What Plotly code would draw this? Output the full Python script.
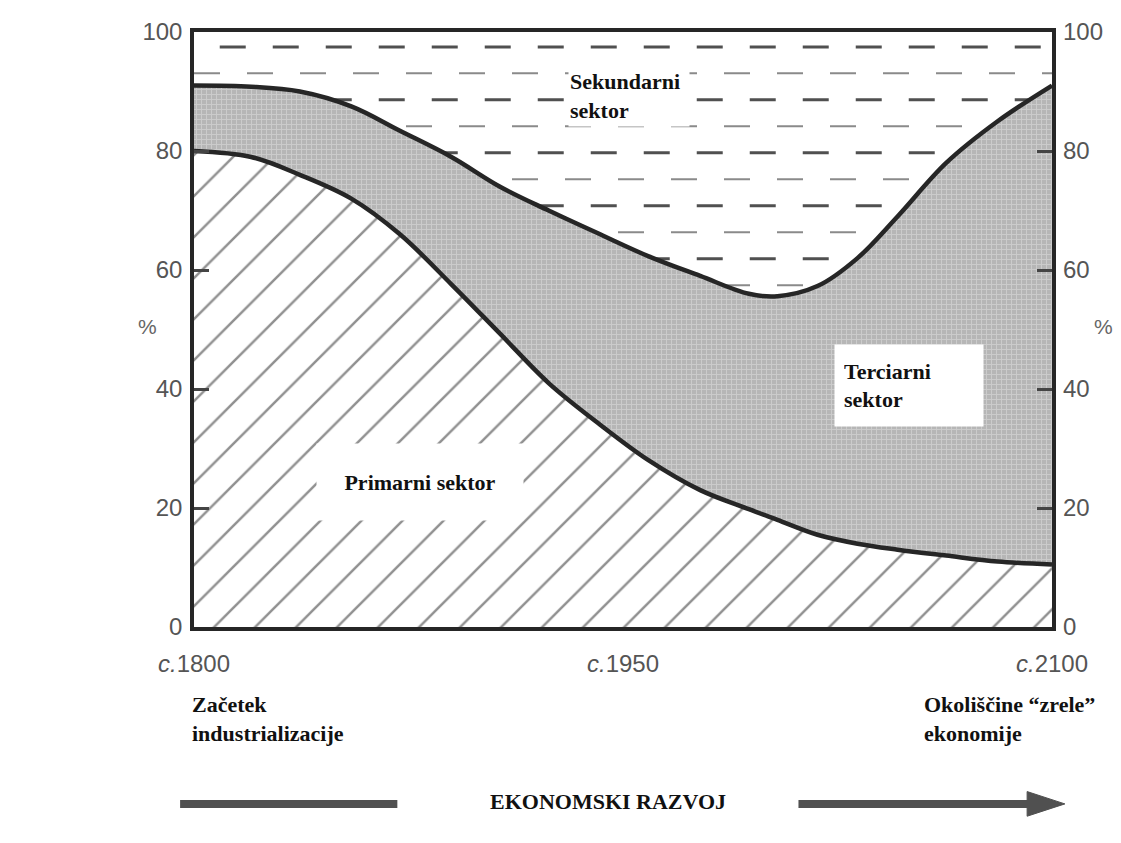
import numpy as np
import plotly.graph_objects as go

# ---- data ----
years = [1800, 1820, 1837, 1855, 1872, 1890, 1907, 1924, 1942, 1959, 1977, 1994, 2004, 2018, 2032, 2046, 2063, 2081, 2100]
primary_top = [80, 79, 76, 72, 66, 57.6, 49.3, 41, 34, 28, 23, 19.8, 18, 15.5, 14, 13, 12, 11, 10.5]
tertiary_top = [91, 90.8, 90, 87.5, 83.4, 79, 74, 70, 66, 62.3, 59, 56, 55.6, 57.3, 62, 69, 78, 85, 91]
x_tick_vals = [1800, 1950, 2100]
x_tick_text = ["<i>c.</i>1800", "<i>c.</i>1950", "<i>c.</i>2100"]
y_tick_vals = [0, 20, 40, 60, 80, 100]

SERIF = "Liberation Serif"
SANS = "Liberation Sans"
LBL = dict(family=SERIF, size=22, color="#111")

fig = go.Figure()

# secondary sector: dashed rows (drawn first, later covered by the other fills)
levels = np.arange(97.5, 52, -4.45)
for i, lv in enumerate(levels):
    start = years[0] + (9 if i % 2 == 0 else 0)
    fig.add_trace(go.Scatter(
        x=[start, years[-1]], y=[lv, lv], mode="lines",
        line=dict(color="#505050" if i % 2 == 0 else "#8a8a8a", width=3 if i % 2 == 0 else 2,
                  dash="26px,27px"),
        hoverinfo="skip", showlegend=False))

# primary sector
fig.add_trace(go.Scatter(
    x=years, y=primary_top, mode="lines", fill="tozeroy",
    line=dict(color="#262626", width=4.5, shape="spline", smoothing=1.0),
    fillcolor="white",
    fillpattern=dict(shape="/", fgcolor="#222222", bgcolor="white", size=29, solidity=0.085),
    showlegend=False, hoverinfo="skip"))

# tertiary sector
fig.add_trace(go.Scatter(
    x=years, y=tertiary_top, mode="lines", fill="tonexty",
    line=dict(color="#262626", width=4.5, shape="spline", smoothing=1.0),
    fillcolor="#c4c4c4",
    fillpattern=dict(shape="+", fgcolor="#e2e2e2", bgcolor="#b6b6b6", size=5, solidity=0.35),
    showlegend=False, hoverinfo="skip"))

# dummy trace for the right axis
fig.add_trace(go.Scatter(x=[1800], y=[0], yaxis="y2", mode="markers",
                         marker=dict(opacity=0), showlegend=False, hoverinfo="skip"))

ann = []
ann.append(dict(x=1952, y=89.2, xref="x", yref="y", text="<b>Sekundarni<br>sektor</b>",
                showarrow=False, align="left", font=LBL, bgcolor="white",
                width=118, height=58, xanchor="center", yanchor="middle"))
ann.append(dict(x=2050, y=40.6, xref="x", yref="y", text="<b>Terciarni<br>sektor</b>",
                showarrow=False, align="left", font=LBL, bgcolor="white",
                width=130, height=63, borderpad=9, xanchor="center", yanchor="middle"))
ann.append(dict(x=1879, y=24.4, xref="x", yref="y", text="<b>Primarni sektor</b>",
                showarrow=False, align="center", font=LBL, bgcolor="white",
                width=190, height=60, borderpad=8, xanchor="center", yanchor="middle"))
# % labels
for xp in [-0.054, 1.060]:
    ann.append(dict(x=xp, y=0.505, xref="paper", yref="paper", text="%", showarrow=False,
                    xanchor="center", yanchor="middle",
                    font=dict(family=SANS, size=21, color="#666")))
ann.append(dict(x=-0.0046, y=-0.155, xref="paper", yref="paper", xanchor="left", yanchor="middle",
                text="<b>Začetek<br>industrializacije</b>", align="left", showarrow=False,
                font=LBL))
ann.append(dict(x=0.849, y=-0.155, xref="paper", yref="paper", xanchor="left", yanchor="middle",
                text="<b>Okoliščine “zrele”<br>ekonomije</b>", align="left", showarrow=False,
                font=LBL))
ann.append(dict(x=0.482, y=-0.293, xref="paper", yref="paper", xanchor="center", yanchor="middle",
                text="<b>EKONOMSKI RAZVOJ</b>", showarrow=False, font=LBL))

arrow_y = -0.2973
shapes = [
    dict(type="line", xref="paper", yref="paper", x0=-0.0162, x1=0.237, y0=arrow_y, y1=arrow_y,
         line=dict(color="#505050", width=8)),
    dict(type="line", xref="paper", yref="paper", x0=0.7045, x1=0.975, y0=arrow_y, y1=arrow_y,
         line=dict(color="#505050", width=8)),
    dict(type="path", xref="paper", yref="paper",
         path=f"M0.971,{arrow_y + 0.0207} L1.015,{arrow_y} L0.971,{arrow_y - 0.0207} Z",
         fillcolor="#505050", line=dict(color="#505050", width=1)),
]

fig.update_layout(
    width=1105, height=827,
    margin=dict(l=186, r=53, t=10, b=208),
    paper_bgcolor="white", plot_bgcolor="white",
    annotations=ann, shapes=shapes,
    xaxis=dict(range=[1800, 2100], tickvals=x_tick_vals, ticktext=x_tick_text,
               showgrid=False, zeroline=False, showline=True, linecolor="#262626", linewidth=3.5,
               mirror=True, ticks="", ticklabelstandoff=12,
               tickfont=dict(family=SANS, size=24, color="#555")),
    yaxis=dict(range=[0, 100], tickvals=y_tick_vals, showgrid=False, zeroline=False,
               showline=True, linecolor="#262626", linewidth=3.5, mirror="ticks",
               ticks="inside", ticklen=15, tickwidth=2.5, tickcolor="#444",
               ticklabelstandoff=3,
               tickfont=dict(family=SANS, size=24, color="#555")),
    yaxis2=dict(range=[0, 100], tickvals=y_tick_vals, overlaying="y", side="right",
                showgrid=False, zeroline=False, showline=False, ticks="",
                ticklabelstandoff=10,
                tickfont=dict(family=SANS, size=24, color="#555")),
)

fig.write_html("out.html")
